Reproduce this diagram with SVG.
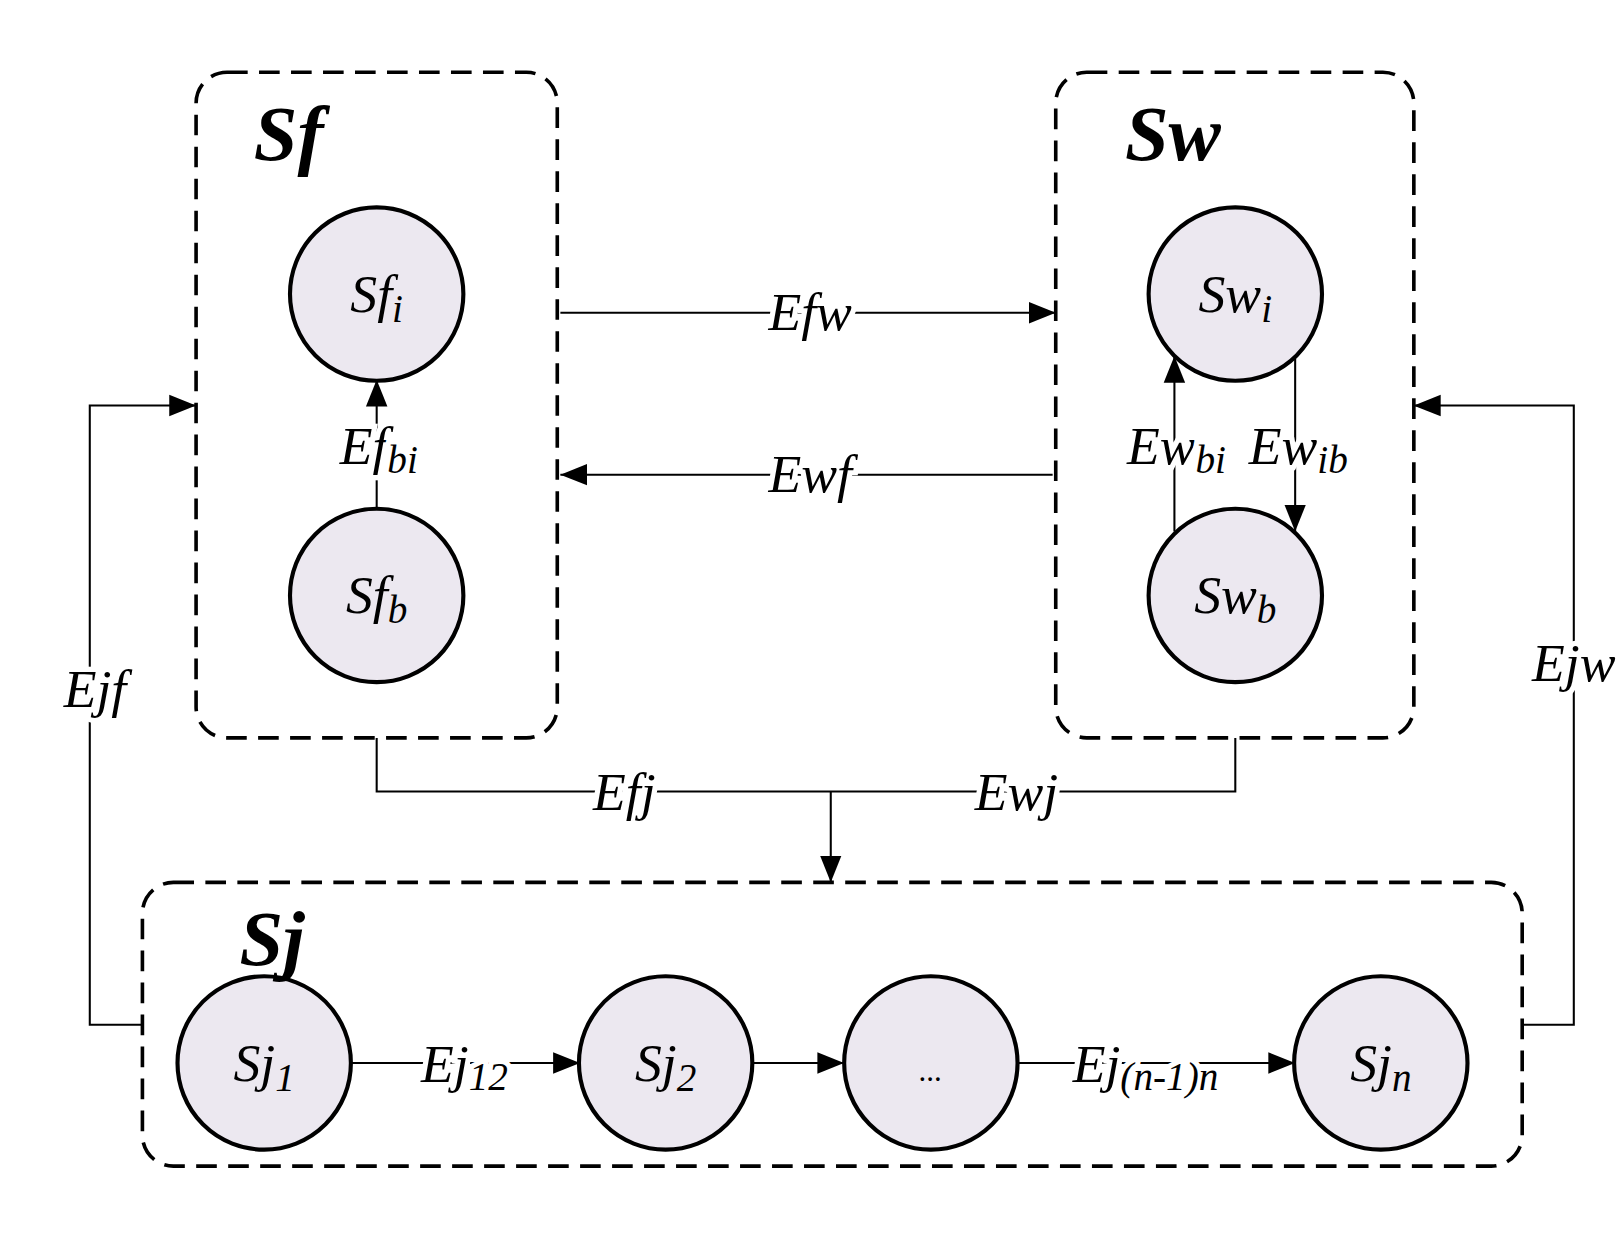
<svg xmlns="http://www.w3.org/2000/svg" width="1618" height="1238" viewBox="0 0 1618 1238">
<defs>
<marker id="b" viewBox="0 0 10 10" refX="10" refY="5" markerWidth="26" markerHeight="26" markerUnits="userSpaceOnUse" orient="auto"><path d="M0,1L10,5L0,9z" fill="#000"/></marker>
<style>
.box{fill:none;stroke:#000;stroke-width:3.5;stroke-dasharray:20 11}
.c{fill:#ece8f0;stroke:#000;stroke-width:4}
.l{fill:none;stroke:#000;stroke-width:2}
.t{font-family:"Liberation Serif","Times New Roman",serif;font-style:italic;font-size:52px;text-anchor:middle}
.lb{paint-order:stroke;stroke:#fff;stroke-width:10}
.s{font-size:38px}
.h{font-family:"Liberation Serif","Times New Roman",serif;font-style:italic;font-weight:bold;font-size:76px}
</style>
</defs>
<rect width="1618" height="1238" fill="#fff"/>
<g transform="scale(1.032)">
<g id="connectors">
<path class="l" d="M543,303H1023" marker-end="url(#b)"/>
<path class="l" d="M1020,460H543" marker-end="url(#b)"/>
<path class="l" d="M365,493V368" marker-end="url(#b)"/>
<path class="l" d="M1138,515V345" marker-end="url(#b)"/>
<path class="l" d="M1255,345V515" marker-end="url(#b)"/>
<path class="l" d="M365,715V767H1197V715"/>
<path class="l" d="M805,767V855" marker-end="url(#b)"/>
<path class="l" d="M138,993H87V393H190" marker-end="url(#b)"/>
<path class="l" d="M1475,993H1525V393H1370" marker-end="url(#b)"/>
<path class="l" d="M340,1030H562" marker-end="url(#b)"/>
<path class="l" d="M730,1030H818" marker-end="url(#b)"/>
<path class="l" d="M985,1030H1255" marker-end="url(#b)"/>
<text class="t lb" x="785" y="320">Efw</text>
<text class="t lb" x="785" y="477">Ewf</text>
<text class="t lb" x="367" y="450">Ef<tspan class="s" dy="8">bi</tspan></text>
<text class="t lb" x="1140" y="450">Ew<tspan class="s" dy="8">bi</tspan></text>
<text class="t lb" x="1258" y="450">Ew<tspan class="s" dy="8">ib</tspan></text>
<text class="t lb" x="605" y="785">Efj</text>
<text class="t lb" x="985" y="785">Ewj</text>
<text class="t lb" x="92" y="685">Ejf</text>
<text class="t lb" x="1525" y="660">Ejw</text>
<text class="t lb" x="450" y="1048">Ej<tspan class="s" dy="8">12</tspan></text>
<text class="t lb" x="1110" y="1048">Ej<tspan class="s" dy="8">(n-1)n</tspan></text>
</g>
<g id="Sf"><rect class="box" x="190" y="70" width="350" height="645" rx="30"/><text class="h" x="246" y="155">Sf</text></g>
<g id="Sw"><rect class="box" x="1023" y="70" width="347" height="645" rx="30"/><text class="h" x="1090" y="155">Sw</text></g>
<g id="Sfi"><circle class="c" cx="365" cy="285" r="84"/><text class="t" x="365" y="302">Sf<tspan class="s" dy="10">i</tspan></text></g>
<g id="Sfb"><circle class="c" cx="365" cy="577" r="84"/><text class="t" x="365" y="594">Sf<tspan class="s" dy="10">b</tspan></text></g>
<g id="Swi"><circle class="c" cx="1197" cy="285" r="84"/><text class="t" x="1197" y="302">Sw<tspan class="s" dy="10">i</tspan></text></g>
<g id="Swb"><circle class="c" cx="1197" cy="577" r="84"/><text class="t" x="1197" y="594">Sw<tspan class="s" dy="10">b</tspan></text></g>
<g id="Sj1"><circle class="c" cx="256" cy="1030" r="84"/><text class="t" x="256" y="1047">Sj<tspan class="s" dy="10">1</tspan></text></g>
<g id="Sj2"><circle class="c" cx="645" cy="1030" r="84"/><text class="t" x="645" y="1047">Sj<tspan class="s" dy="10">2</tspan></text></g>
<g id="Sjdots"><circle class="c" cx="902" cy="1030" r="84"/><text class="t" x="902" y="1047" style="font-size:30px">...</text></g>
<g id="Sjn"><circle class="c" cx="1338" cy="1030" r="84"/><text class="t" x="1338" y="1047">Sj<tspan class="s" dy="10">n</tspan></text></g>
<g id="Sj"><rect class="box" x="138" y="855" width="1337" height="275" rx="30"/><text class="h" x="232" y="935">Sj</text></g>
</g>
</svg>
